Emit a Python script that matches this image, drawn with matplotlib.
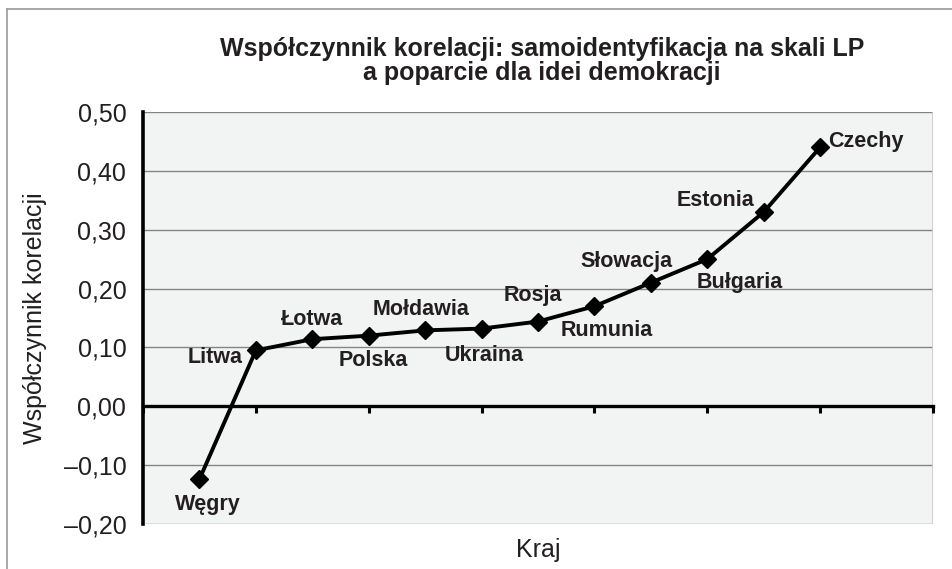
import matplotlib
matplotlib.use("Agg")
import matplotlib.pyplot as plt
from matplotlib.lines import Line2D
from matplotlib.ticker import FuncFormatter, FixedLocator

countries = ["Węgry", "Litwa", "Łotwa", "Polska", "Mołdawia", "Ukraina",
             "Rosja", "Rumunia", "Słowacja", "Bułgaria", "Estonia", "Czechy"]
correlation = [-0.124, 0.095, 0.114, 0.120, 0.129, 0.132,
               0.144, 0.170, 0.210, 0.250, 0.330, 0.440]
y_ticks = [-0.2, -0.1, 0.0, 0.1, 0.2, 0.3, 0.4, 0.5]

# label offsets from each marker, in pixels
label_offsets = [(8, -25), (-41, -7), (0, 20), (5, -25), (-4, 21), (3, -27),
                 (-5, 26), (12, -24), (-24, 21), (32, -23), (-48, 12), (46, 6)]

text_col = "#231f20"
grid_col = "#858585"

plt.rcParams["font.family"] = ["Liberation Sans", "DejaVu Sans"]

fig = plt.figure(figsize=(9.52, 5.69), dpi=100)
ax = fig.add_axes([143 / 952, 1 - 524 / 569, 790 / 952, 412 / 569])
ax.set_facecolor("#f2f3f3")

# outer chart frame (top and left edges visible)
fig.add_artist(Line2D([7 / 952, 7 / 952], [1 - 9 / 569, 0], color="#9a9a9a", lw=1.2))
fig.add_artist(Line2D([7 / 952, 1], [1 - 9 / 569, 1 - 9 / 569], color="#9a9a9a", lw=1.2))

x = list(range(len(countries)))
ax.set_xlim(-1, 13)
ax.set_ylim(-0.2, 0.5)

for v in y_ticks:
    if v != 0:
        ax.axhline(v, color=grid_col, lw=1.0, zorder=1)
ax.axvline(13, color="#c8c8c8", lw=1.2, zorder=1)

for s in ["top", "right"]:
    ax.spines[s].set_visible(False)
ax.spines["bottom"].set_position(("data", 0))
ax.spines["bottom"].set_linewidth(2.4)
ax.spines["bottom"].set_zorder(2)
ax.spines["left"].set_linewidth(2.6)

ax.plot(x, correlation, color="black", lw=2.8, marker="D", markersize=9,
        zorder=4, clip_on=False)

for xi, yi, name, (dx, dy) in zip(x, correlation, countries, label_offsets):
    ax.annotate(name, (xi, yi), xytext=(dx, dy), textcoords="offset pixels",
                ha="center", va="center", fontsize=15.5, fontweight="bold",
                color=text_col, zorder=5)

ax.xaxis.set_major_locator(FixedLocator(list(range(-1, 14, 2))))
ax.set_xticklabels([])
ax.tick_params(axis="x", direction="out", length=5, width=2.2, color="black")
ax.set_yticks(y_ticks)
ax.yaxis.set_major_formatter(FuncFormatter(
    lambda v, p: ("\u2013" if v < -1e-9 else "") + f"{abs(v):.2f}".replace(".", ",")))
ax.tick_params(axis="y", length=0, pad=12, labelsize=18, labelcolor=text_col)

ax.set_ylabel("Współczynnik korelacji", fontsize=18, color=text_col, labelpad=12)
fig.text(538 / 952, 1 - 550 / 569, "Kraj", ha="center", va="center",
         fontsize=18, color=text_col)

fig.text(542 / 952, 1 - 61 / 569,
         "Współczynnik korelacji: samoidentyfikacja na skali LP\na poparcie dla idei demokracji",
         ha="center", va="center", fontsize=18, fontweight="bold", color=text_col,
         linespacing=1.05)

fig.savefig("out.png", dpi=100)
